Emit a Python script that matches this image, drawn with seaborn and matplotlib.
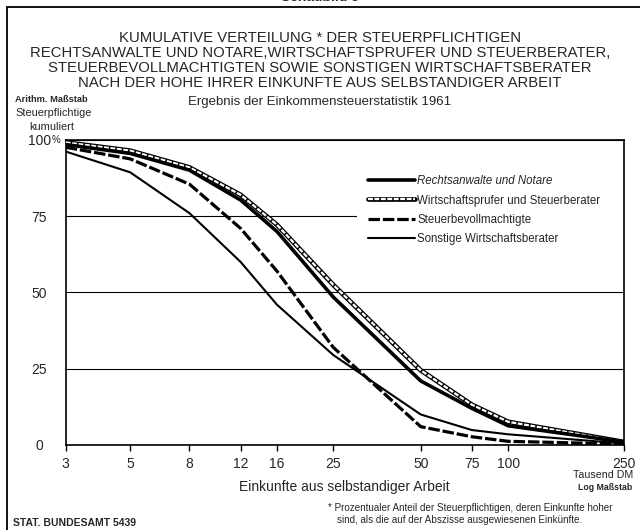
import matplotlib
matplotlib.use("Agg")
import matplotlib.pyplot as plt
import seaborn as sns
from matplotlib.lines import Line2D
from matplotlib.patches import Rectangle

# Einkünfte aus selbständiger Arbeit (Tausend DM), log scale
incomes = [3, 5, 8, 12, 16, 25, 50, 75, 100, 250]
tick_labels = ["3", "5", "8", "12", "16", "25", "50", "75", "100", "250"]

# cumulative share of taxpayers with higher income (%)
rechtsanwaelte = [98.5, 95.6, 90.1, 80.3, 70.0, 48.5, 21.0, 12.0, 6.3, 1.0]
wirtschaftspruefer = [99.2, 96.5, 91.0, 82.0, 72.2, 52.5, 24.5, 13.2, 7.6, 1.0]
steuerbevollm = [97.6, 93.8, 85.5, 71.0, 57.0, 32.0, 6.0, 2.7, 1.2, 0.3]
sonstige = [96.2, 89.4, 76.0, 60.0, 46.0, 29.5, 10.0, 4.9, 3.5, 0.5]

series_names = [
    "Rechtsanwalte und Notare",
    "Wirtschaftsprufer und Steuerberater",
    "Steuerbevollmachtigte",
    "Sonstige Wirtschaftsberater",
]

sns.set_style("ticks")
plt.rcParams["font.family"] = ["Liberation Sans", "DejaVu Sans"]

fig = plt.figure(figsize=(6.4, 5.3), dpi=100)
ax = fig.add_axes([0.1027, 0.1604, 0.872, 0.5755])
ax.set_xscale("log")

# white box behind the legend, hides the 75 grid line
ax.add_patch(Rectangle((0.522, 0.62), 0.478, 0.30, transform=ax.transAxes,
                       facecolor="white", edgecolor="none", zorder=1.5))

sns.lineplot(x=incomes, y=rechtsanwaelte, ax=ax, color="black", lw=2.6, zorder=4)
sns.lineplot(x=incomes, y=wirtschaftspruefer, ax=ax, color="black", lw=3.4, zorder=3)
sns.lineplot(x=incomes, y=wirtschaftspruefer, ax=ax, color="white", lw=1.6,
             linestyle=(0, (2.2, 0.7)), zorder=3.1)
sns.lineplot(x=incomes, y=steuerbevollm, ax=ax, color="black", lw=2.3,
             linestyle=(0, (3.6, 0.9)), zorder=3)
sns.lineplot(x=incomes, y=sonstige, ax=ax, color="black", lw=1.5, zorder=3)

ax.set_xlim(3, 250)
ax.set_ylim(0, 100)
ax.set_xticks(incomes)
ax.set_xticklabels(tick_labels, fontsize=10)
ax.minorticks_off()
ax.tick_params(axis="x", direction="out", length=4, width=1, pad=5, color="black")
ax.set_yticks([0, 25, 50, 75, 100])
ax.set_yticklabels(["0", "25", "50", "75", "100"], fontsize=10, ha="center")
ax.tick_params(axis="y", length=0, pad=19)
ax.text(-0.017, 1.0, "%", transform=ax.transAxes, fontsize=7, ha="center", va="center")
ax.grid(axis="y", color="black", lw=0.8)
ax.grid(axis="x", visible=False)
for s in ax.spines.values():
    s.set_color("black")
    s.set_linewidth(1.2)
ax.set_xlabel("Einkunfte aus selbstandiger Arbeit", fontsize=10, labelpad=6)
ax.set_ylabel("")

handles = [
    Line2D([], [], color="black", lw=2.6),
    (Line2D([], [], color="black", lw=3.4),
     Line2D([], [], color="white", lw=1.6, linestyle=(0, (2.2, 0.7)))),
    Line2D([], [], color="black", lw=2.3, linestyle=(0, (3.6, 0.9))),
    Line2D([], [], color="black", lw=1.5),
]
leg = ax.legend(handles, series_names, loc="upper left", bbox_to_anchor=(0.5415, 0.884),
                frameon=False, fontsize=8.3, handlelength=4.1, handletextpad=0.2,
                labelspacing=0.62, borderaxespad=0, borderpad=0)
leg.get_texts()[0].set_fontstyle("italic")

# outer frame (right edge runs off the page)
fig.patches.append(Rectangle((0.011, -0.02), 1.0, 1.007, transform=fig.transFigure,
                             fill=False, edgecolor="black", lw=1.3))
fig.text(0.5, 1.0 + 3 / 530, "Schaubild 5", ha="center", va="center", fontsize=10, weight="bold")

title_lines = [
    "KUMULATIVE VERTEILUNG * DER STEUERPFLICHTIGEN",
    "RECHTSANWALTE UND NOTARE,WIRTSCHAFTSPRUFER UND STEUERBERATER,",
    "STEUERBEVOLLMACHTIGTEN SOWIE SONSTIGEN WIRTSCHAFTSBERATER",
    "NACH DER HOHE IHRER EINKUNFTE AUS SELBSTANDIGER ARBEIT",
]
for i, line in enumerate(title_lines):
    fig.text(0.5, 1 - (38 + 15 * i) / 530, line, ha="center", va="center", fontsize=10.7)
fig.text(0.5, 1 - 102 / 530, "Ergebnis der Einkommensteuerstatistik 1961",
         ha="center", va="center", fontsize=9.5)

fig.text(15 / 640, 1 - 100 / 530, "Arithm. Maßstab", ha="left", va="center", fontsize=6.7, weight="bold")
fig.text(15 / 640, 1 - 113 / 530, "Steuerpflichtige", ha="left", va="center", fontsize=7.9)
fig.text(52 / 640, 1 - 127 / 530, "kumuliert", ha="center", va="center", fontsize=7.9)

fig.text(633 / 640, 1 - 475 / 530, "Tausend DM", ha="right", va="center", fontsize=7.7)
fig.text(632 / 640, 1 - 487 / 530, "Log Maßstab", ha="right", va="center", fontsize=6.3, weight="bold")

fig.text(328 / 640, 1 - 508 / 530,
         "* Prozentualer Anteil der Steuerpflichtigen, deren Einkunfte hoher",
         ha="left", va="center", fontsize=7.1)
fig.text(337 / 640, 1 - 520 / 530,
         "sind, als die auf der Abszisse ausgewiesenen Einkünfte.",
         ha="left", va="center", fontsize=7.1)
fig.text(13 / 640, 1 - 523 / 530, "STAT. BUNDESAMT 5439", ha="left", va="center",
         fontsize=7.5, weight="bold")

fig.savefig("out.png", dpi=100)
